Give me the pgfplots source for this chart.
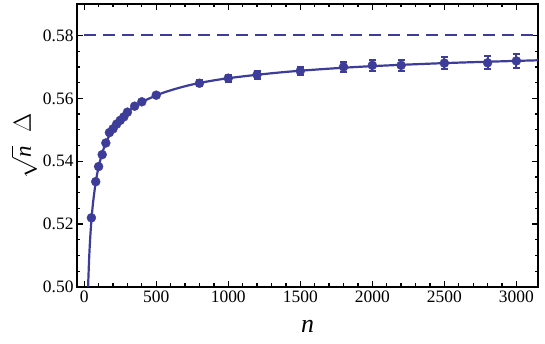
\documentclass[border=0pt]{standalone}
\usepackage{fontspec}
\setmainfont{Liberation Serif}
\usepackage{pgfplots}
\pgfplotsset{compat=1.18}
\definecolor{mblue}{RGB}{61,61,153}

\pgfplotstableread{
n     d       e
50    0.5220  0.0003
80    0.5335  0.0003
100   0.5383  0.0003
125   0.5421  0.0003
150   0.5458  0.0004
175   0.5491  0.0004
200   0.5503  0.0004
225   0.5518  0.0004
250   0.5530  0.0004
275   0.5541  0.0005
300   0.5556  0.0005
350   0.5575  0.0005
400   0.5589  0.0006
500   0.5610  0.0006
800   0.5648  0.0009
1000  0.5664  0.0011
1200  0.5675  0.0012
1500  0.5687  0.0014
1800  0.5700  0.0016
2000  0.5705  0.0017
2200  0.5705  0.0018
2500  0.5712  0.0019
2800  0.5713  0.0021
3000  0.5719  0.0022
}\measured

\begin{document}
\begin{tikzpicture}
\begin{axis}[
  scale only axis, width=461bp, height=283bp,
  xmin=-50, xmax=3150, ymin=0.50, ymax=0.59,
  xtick={0,500,1000,1500,2000,2500,3000}, minor x tick num=4,
  ytick={0.50,0.52,0.54,0.56,0.58}, minor y tick num=3,
  tick align=inside, major tick length=6bp, minor tick length=3.5bp,
  axis line style={line width=1.6bp},
  every tick/.style={black, line width=1.3bp},
  tick label style={font=\fontsize{17.5}{19}\selectfont},
  /pgf/number format/assume math mode=true,
  yticklabel style={/pgf/number format/.cd, fixed, fixed zerofill, precision=2},
  xticklabel style={/pgf/number format/1000 sep={}},
  xlabel={\fontsize{26}{28}\selectfont\textit{n}},
  xlabel style={at={(axis description cs:0.5,-0.141)}, anchor=center},
  ylabel={\fontsize{23}{25}\selectfont$\smash{\sqrt{\textit{n}}\;\;\Delta}$},
  ylabel style={at={(axis description cs:-0.0998,0.5)}, anchor=center, inner sep=0pt},
  clip=true,
]
\addplot[mblue, line width=2bp, dash pattern=on 12bp off 7bp]
  coordinates {(0,0.58) (3150,0.58)};
\addplot[mblue, line width=2.2bp, smooth] coordinates {
  (27,0.5001) (35,0.5098) (45,0.5180) (60,0.5262) (80,0.5333) (100,0.5382)
  (130,0.5433) (170,0.5478) (220,0.5516) (300,0.5556) (400,0.5588)
  (550,0.5618) (750,0.5644) (1000,0.5664) (1400,0.5684) (1900,0.5700)
  (2500,0.5712) (3150,0.5721)};
\addplot[only marks, mblue, mark=*, mark size=4.5bp,
  mark options={fill=mblue, draw=mblue},
  error bars/.cd, y dir=both, y explicit,
  error bar style={mblue, line width=2bp},
  error mark options={rotate=90, mblue, mark size=3.5bp, line width=2bp}]
  table[x=n, y=d, y error=e] {\measured};
\end{axis}
\pgfresetboundingbox
\path (current axis.south west) ++(-77bp,-57bp)
  rectangle ([shift={(7bp,4bp)}]current axis.north east);
\end{tikzpicture}
\end{document}
